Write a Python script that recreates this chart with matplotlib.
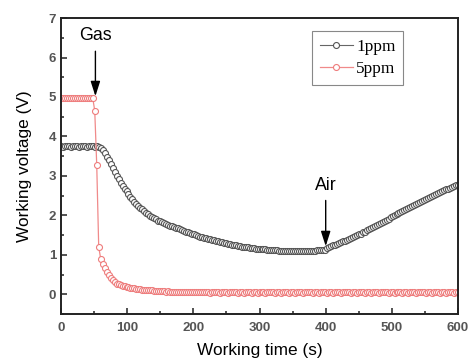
import numpy as np
import matplotlib
matplotlib.use("Agg")
import matplotlib.pyplot as plt

# both runs sampled every 3 s
time_s = list(range(0, 601, 3))

volt_1ppm = [
    # 0-54 s, before gas
    3.75, 3.74, 3.75, 3.76, 3.75, 3.74, 3.75, 3.76, 3.75, 3.74,
    3.75, 3.76, 3.75, 3.74, 3.75, 3.76, 3.75, 3.74, 3.75,
    # 57-399 s, gas on
    3.73, 3.70, 3.65, 3.58, 3.49, 3.40, 3.31, 3.21, 3.11, 3.01,
    2.91, 2.83, 2.75, 2.68, 2.61, 2.54, 2.47, 2.41, 2.35, 2.29,
    2.24, 2.19, 2.15, 2.11, 2.07, 2.03, 1.99, 1.96, 1.93, 1.90,
    1.87, 1.85, 1.83, 1.80, 1.78, 1.76, 1.74, 1.72, 1.70, 1.68,
    1.67, 1.65, 1.63, 1.61, 1.59, 1.58, 1.56, 1.54, 1.52, 1.50,
    1.48, 1.46, 1.45, 1.43, 1.42, 1.40, 1.39, 1.38, 1.37, 1.35,
    1.34, 1.33, 1.32, 1.31, 1.29, 1.28, 1.27, 1.26, 1.25, 1.24,
    1.23, 1.22, 1.21, 1.21, 1.20, 1.19, 1.18, 1.17, 1.17, 1.16,
    1.16, 1.15, 1.15, 1.14, 1.14, 1.13, 1.13, 1.13, 1.12, 1.12,
    1.12, 1.11, 1.11, 1.11, 1.11, 1.10, 1.10, 1.10, 1.10, 1.10,
    1.10, 1.10, 1.10, 1.10, 1.10, 1.10, 1.10, 1.11, 1.11, 1.11,
    1.12, 1.12, 1.12, 1.13, 1.13,
    # 402-600 s, back to air
    1.17, 1.20, 1.22, 1.24, 1.26, 1.28, 1.30, 1.32, 1.34, 1.36,
    1.38, 1.40, 1.42, 1.45, 1.47, 1.50, 1.52, 1.54, 1.57, 1.59,
    1.62, 1.65, 1.67, 1.70, 1.72, 1.75, 1.77, 1.80, 1.83, 1.86,
    1.89, 1.92, 1.95, 1.98, 2.01, 2.04, 2.07, 2.09, 2.12, 2.14,
    2.17, 2.19, 2.22, 2.25, 2.27, 2.30, 2.32, 2.34, 2.37, 2.39,
    2.42, 2.45, 2.47, 2.50, 2.52, 2.55, 2.57, 2.59, 2.62, 2.64,
    2.66, 2.68, 2.70, 2.72, 2.74, 2.76, 2.77,
]

volt_5ppm = [
    # 0-48 s
    4.98, 4.97, 4.98, 4.98, 4.97, 4.98, 4.98, 4.97, 4.98, 4.98,
    4.97, 4.98, 4.98, 4.97, 4.98, 4.98, 4.97,
    # 51-138 s
    4.65, 3.28, 1.20, 0.90, 0.78, 0.66, 0.57, 0.48, 0.41, 0.36,
    0.31, 0.27, 0.25, 0.23, 0.21, 0.20, 0.19, 0.18, 0.17, 0.16,
    0.15, 0.14, 0.14, 0.13, 0.12, 0.12, 0.11, 0.11, 0.10, 0.10,
    # 141-600 s
    0.09, 0.09, 0.09, 0.08, 0.08, 0.08, 0.07, 0.08, 0.07, 0.07, 0.07,
    0.06, 0.07, 0.06, 0.06, 0.07, 0.06, 0.05, 0.06, 0.06, 0.05, 0.06,
    0.05, 0.06, 0.05, 0.05, 0.06, 0.05, 0.04, 0.05, 0.06, 0.05, 0.05,
    0.04, 0.05, 0.06, 0.05, 0.04, 0.05, 0.05, 0.06, 0.05, 0.04, 0.05,
    0.05, 0.04, 0.05, 0.06, 0.05, 0.04, 0.05, 0.05, 0.04, 0.05, 0.06,
    0.05, 0.04, 0.05, 0.05, 0.06, 0.05, 0.04, 0.05, 0.05, 0.04, 0.05,
    0.06, 0.05, 0.04, 0.05, 0.05, 0.04, 0.05, 0.06, 0.05, 0.04, 0.05,
    0.05, 0.06, 0.05, 0.04, 0.05, 0.05, 0.04, 0.05, 0.06, 0.05, 0.04,
    0.05, 0.05, 0.04, 0.05, 0.06, 0.05, 0.04, 0.05, 0.05, 0.06, 0.05,
    0.04, 0.05, 0.05, 0.04, 0.05, 0.06, 0.05, 0.04, 0.05, 0.05, 0.04,
    0.05, 0.06, 0.05, 0.04, 0.05, 0.05, 0.06, 0.05, 0.04, 0.05, 0.05,
    0.04, 0.05, 0.06, 0.05, 0.04, 0.05, 0.05, 0.04, 0.05, 0.06, 0.05,
    0.04, 0.05, 0.05, 0.06, 0.05, 0.04, 0.05, 0.05, 0.04, 0.05, 0.06,
    0.05, 0.04, 0.05, 0.05, 0.04, 0.05, 0.06, 0.05, 0.04, 0.05, 0.05,
]

labels = ["1ppm", "5ppm"]
gas_time, gas_volt = 52, 5.02
air_time, air_volt = 400, 1.22

plt.rcParams["font.family"] = ["Liberation Sans", "DejaVu Sans"]

fig = plt.figure(figsize=(4.71, 3.61), dpi=100)
ax = fig.add_axes([0.1295, 0.130, 0.843, 0.820])

ax.plot(time_s, volt_1ppm, color="#666666", lw=0.8, marker="o",
        markersize=4.3, markerfacecolor="white", markeredgecolor="#555555",
        markeredgewidth=0.8, label=labels[0])
ax.plot(time_s, volt_5ppm, color="#f08a8a", lw=0.9, marker="o",
        markersize=4.3, markerfacecolor="white", markeredgecolor="#ee7c7c",
        markeredgewidth=0.8, label=labels[1])

ax.set_xlim(0, 600)
ax.set_ylim(-0.5, 7)
ax.set_xticks(range(0, 601, 100))
ax.set_xticks(range(0, 601, 50), minor=True)
ax.set_yticks(range(0, 8))
ax.set_yticks(np.arange(-0.5, 7.01, 0.5), minor=True)
ax.tick_params(which="both", direction="in", top=False, right=False,
               labelsize=9.5, labelcolor="#555555", width=1.2, color="#333333")
ax.tick_params(which="major", length=4)
ax.tick_params(which="minor", length=2)
ax.tick_params(axis="x", which="major", pad=6)
for lab in ax.get_xticklabels() + ax.get_yticklabels():
    lab.set_fontweight("bold")
for sp in ax.spines.values():
    sp.set_linewidth(1.4)
    sp.set_color("#222222")

ax.set_xlabel("Working time (s)", fontsize=12.4, labelpad=6)
ax.set_ylabel("Working voltage (V)", fontsize=12.4, labelpad=12)

arrow = dict(arrowstyle="-|>,head_length=0.75,head_width=0.24", color="black",
             lw=1.0, mutation_scale=12, shrinkA=3, shrinkB=0)
ax.annotate("Gas", xy=(gas_time, gas_volt), xytext=(gas_time, 6.55),
            ha="center", va="center", fontsize=12.8, arrowprops=arrow)
ax.annotate("Air", xy=(air_time, air_volt), xytext=(air_time, 2.77),
            ha="center", va="center", fontsize=12.8, arrowprops=arrow)

leg = ax.legend(loc="upper right", bbox_to_anchor=(0.862, 0.955),
                prop={"family": "Liberation Serif", "size": 12.4},
                fancybox=False, edgecolor="#888888", framealpha=1,
                handlelength=1.9, handletextpad=0.2, borderpad=0.45,
                labelspacing=0.35, borderaxespad=0.0)
leg.get_frame().set_linewidth(0.8)

fig.savefig("out.png", dpi=100)
